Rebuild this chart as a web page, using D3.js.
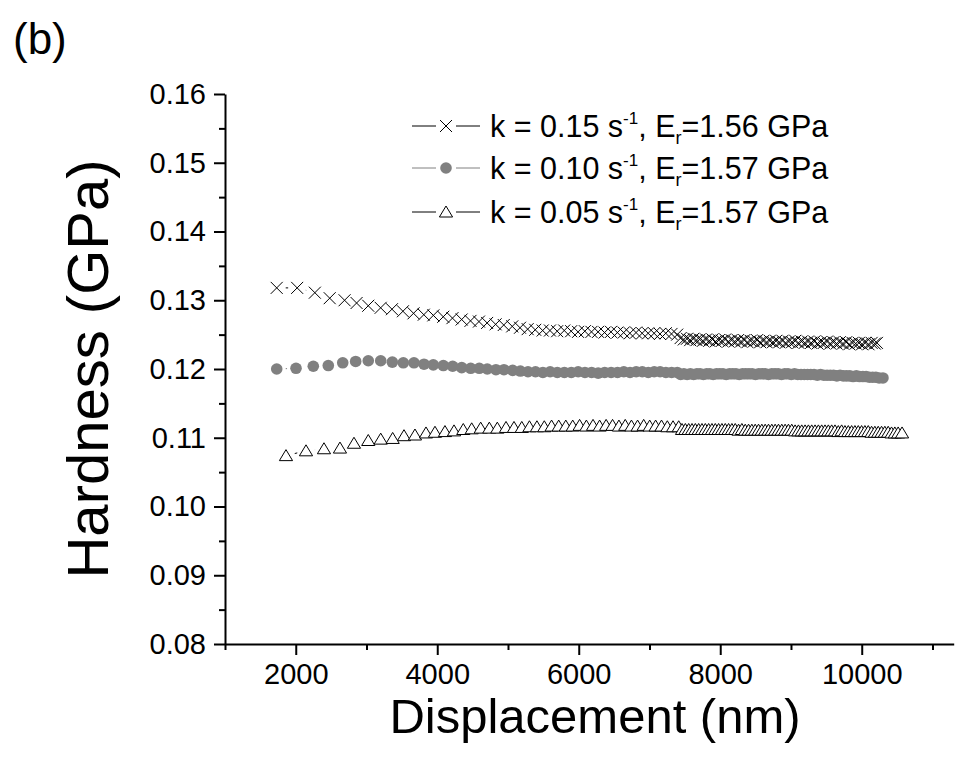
<!DOCTYPE html>
<html>
<head>
<meta charset="utf-8">
<script src="https://cdn.jsdelivr.net/npm/d3@7"></script>
<style>
  body { margin: 0; background: #fff; }
  svg { display: block; font-family: Arial, "Liberation Sans", sans-serif; }
</style>
</head>
<body>
<script>
// data: [displacement (nm), hardness (GPa)]
var k015 = [
  [1731,0.1318],[2020,0.1318],[2270,0.1311],[2480,0.1303],[2690,0.1300],[2860,0.1296],[3025,0.1292],[3200,0.1289],
  [3360,0.1287],[3515,0.1284],[3665,0.1281],[3810,0.1279],[3945,0.1278],[4085,0.1276],[4215,0.1274],[4345,0.1272],
  [4470,0.1270],[4590,0.1269],[4705,0.1267],[4825,0.1265],[4940,0.1264],[5060,0.1262],[5170,0.1260],[5278,0.1258],
  [5385,0.1257],[5490,0.1256],[5593,0.1256],[5695,0.1255],[5795,0.1256],[5893,0.1255],[5990,0.1254],[6086,0.1255],
  [6180,0.1254],[6273,0.1254],[6365,0.1253],[6456,0.1254],[6546,0.1253],[6635,0.1253],[6723,0.1252],[6810,0.1253],
  [6896,0.1252],[6981,0.1252],[7065,0.1252],[7148,0.1251],[7230,0.1252],[7311,0.1251],[7391,0.1250],
  [7440,0.1245],[7485,0.1243],[7530,0.1244],[7575,0.1242],[7620,0.1244],[7665,0.1242],[7710,0.1243],[7755,0.1241],
  [7800,0.1243],[7845,0.1241],[7890,0.1243],[7935,0.1240],[7980,0.1242],[8025,0.1241],[8070,0.1243],[8115,0.1240],
  [8160,0.1242],[8205,0.1240],[8250,0.1242],[8295,0.1240],[8340,0.1242],[8385,0.1239],[8430,0.1241],[8475,0.1240],
  [8520,0.1242],[8565,0.1239],[8610,0.1241],[8655,0.1239],[8700,0.1241],[8745,0.1239],[8790,0.1241],[8835,0.1239],
  [8880,0.1241],[8925,0.1238],[8970,0.1240],[9015,0.1239],[9060,0.1241],[9105,0.1238],[9150,0.1240],[9195,0.1238],
  [9240,0.1240],[9285,0.1238],[9330,0.1240],[9375,0.1237],[9420,0.1239],[9465,0.1238],[9510,0.1240],[9555,0.1237],
  [9600,0.1239],[9645,0.1237],[9690,0.1239],[9735,0.1237],[9780,0.1239],[9825,0.1236],[9870,0.1238],[9915,0.1237],
  [9960,0.1238],[10005,0.1236],[10050,0.1238],[10095,0.1236],[10140,0.1238],[10185,0.1237],[10215,0.1238]
];
var k010 = [
  [1731,0.1200],[2004,0.1201],[2248,0.1204],[2460,0.1205],[2664,0.1209],[2847,0.1211],[3025,0.1212],[3201,0.1212],
  [3365,0.1210],[3520,0.1209],[3671,0.1209],[3813,0.1207],[3944,0.1206],[4086,0.1205],[4218,0.1204],[4346,0.1202],
  [4473,0.1201],[4594,0.1201],[4707,0.1200],[4830,0.1199],[4943,0.1199],[5066,0.1198],[5175,0.1197],[5283,0.1196],
  [5389,0.1196],[5493,0.1195],[5596,0.1196],[5697,0.1195],[5797,0.1195],[5895,0.1195],[5992,0.1196],[6088,0.1195],
  [6182,0.1195],[6275,0.1194],[6367,0.1195],[6458,0.1195],[6548,0.1195],[6637,0.1196],[6725,0.1195],[6812,0.1196],
  [6898,0.1196],[6983,0.1195],[7067,0.1196],[7150,0.1196],[7232,0.1195],[7313,0.1195],[7393,0.1195],
  [7440,0.1192],[7486,0.1193],[7532,0.1192],[7578,0.1193],[7624,0.1192],[7670,0.1193],[7716,0.1193],[7762,0.1192],
  [7808,0.1193],[7854,0.1193],[7900,0.1192],[7946,0.1193],[7992,0.1193],[8038,0.1193],[8084,0.1192],[8130,0.1193],
  [8176,0.1193],[8222,0.1193],[8268,0.1192],[8314,0.1193],[8360,0.1193],[8406,0.1193],[8452,0.1193],[8498,0.1192],
  [8544,0.1193],[8590,0.1193],[8636,0.1193],[8682,0.1192],[8728,0.1193],[8774,0.1193],[8820,0.1193],[8866,0.1192],
  [8912,0.1193],[8958,0.1193],[9004,0.1192],[9050,0.1193],[9096,0.1192],[9142,0.1192],[9188,0.1192],[9234,0.1192],
  [9280,0.1192],[9326,0.1192],[9372,0.1191],[9418,0.1192],[9464,0.1191],[9510,0.1191],[9556,0.1191],[9602,0.1191],
  [9648,0.1190],[9694,0.1191],[9740,0.1190],[9786,0.1190],[9832,0.1190],[9878,0.1189],[9924,0.1190],[9970,0.1189],
  [10016,0.1189],[10062,0.1189],[10108,0.1188],[10154,0.1188],[10200,0.1188],[10246,0.1187],[10300,0.1187]
];
var k005 = [
  [1862,0.1074],[2145,0.1081],[2399,0.1084],[2625,0.1085],[2823,0.1092],[3025,0.1096],[3201,0.1098],[3370,0.1099],
  [3530,0.1103],[3685,0.1104],[3841,0.1107],[3968,0.1108],[4109,0.1109],[4237,0.1110],[4368,0.1112],[4487,0.1113],
  [4614,0.1114],[4736,0.1114],[4849,0.1114],[4972,0.1115],[5085,0.1115],[5195,0.1115],[5303,0.1116],[5409,0.1116],
  [5513,0.1116],[5616,0.1117],[5717,0.1117],[5817,0.1117],[5915,0.1117],[6012,0.1118],[6108,0.1117],[6202,0.1118],
  [6295,0.1117],[6387,0.1118],[6478,0.1118],[6568,0.1117],[6657,0.1118],[6745,0.1117],[6832,0.1117],[6918,0.1118],
  [7003,0.1117],[7087,0.1117],[7170,0.1117],[7252,0.1116],[7333,0.1116],[7413,0.1116],
  [7460,0.1112],[7507,0.1112],[7554,0.1112],[7601,0.1112],[7648,0.1112],[7695,0.1112],[7742,0.1112],[7789,0.1112],
  [7836,0.1112],[7883,0.1112],[7930,0.1112],[7977,0.1112],[8024,0.1112],[8071,0.1112],[8118,0.1112],[8165,0.1112],
  [8212,0.1112],[8259,0.1111],[8306,0.1112],[8353,0.1111],[8400,0.1111],[8447,0.1111],[8494,0.1111],[8541,0.1111],
  [8588,0.1111],[8635,0.1111],[8682,0.1111],[8729,0.1111],[8776,0.1111],[8823,0.1111],[8870,0.1111],[8917,0.1111],
  [8964,0.1111],[9011,0.1111],[9058,0.1110],[9105,0.1110],[9152,0.1110],[9199,0.1110],[9246,0.1110],[9293,0.1110],
  [9340,0.1110],[9387,0.1110],[9434,0.1110],[9481,0.1110],[9528,0.1110],[9575,0.1110],[9622,0.1110],[9669,0.1109],
  [9716,0.1110],[9763,0.1109],[9810,0.1109],[9857,0.1109],[9904,0.1109],[9951,0.1109],[9998,0.1109],[10045,0.1109],
  [10092,0.1109],[10139,0.1108],[10186,0.1108],[10233,0.1108],[10280,0.1108],[10327,0.1108],[10374,0.1108],[10421,0.1107],
  [10468,0.1107],[10515,0.1107],[10570,0.1107]
];

// axis ticks
var xTicks = [2000, 4000, 6000, 8000, 10000];
var xMinor = [1000, 3000, 5000, 7000, 9000, 11000];
var yTicks = [0.08, 0.09, 0.10, 0.11, 0.12, 0.13, 0.14, 0.15, 0.16];
var yMinor = [0.085, 0.095, 0.105, 0.115, 0.125, 0.135, 0.145, 0.155];

// legend labels
var legendK = ["0.15", "0.10", "0.05"];
var legendEr = ["1.56", "1.57", "1.57"];

var width = 958, height = 759;

var svg = d3.select("body").append("svg")
    .attr("width", width)
    .attr("height", height);

var x = d3.scaleLinear().domain([1000, 11300]).range([225, 953.7]);
var y = d3.scaleLinear().domain([0.08, 0.16]).range([644, 94]);

// marker shapes
var shapes = [
  {data: k015, color: "#000", draw: function(g) {
      g.append("path").attr("d", "M-6,-6L6,6M-6,6L6,-6")
        .attr("fill", "none").attr("stroke", "#000").attr("stroke-width", 1);
  }},
  {data: k010, color: "#808080", draw: function(g) {
      g.append("circle").attr("r", 5.8).attr("fill", "#808080");
  }},
  {data: k005, color: "#000", draw: function(g) {
      g.append("path").attr("d", "M0,-6L6.6,5L-6.6,5Z")
        .attr("fill", "#fff").attr("stroke", "#000").attr("stroke-width", 1);
  }}
];

// connecting lines with a gap around each symbol
var gap = 9;
shapes.forEach(function(s) {
  var segs = [];
  for (var i = 0; i < s.data.length - 1; i++) {
    var x1 = x(s.data[i][0]), y1 = y(s.data[i][1]);
    var x2 = x(s.data[i + 1][0]), y2 = y(s.data[i + 1][1]);
    var d = Math.hypot(x2 - x1, y2 - y1);
    if (d > 2 * gap) {
      var ux = (x2 - x1) / d, uy = (y2 - y1) / d;
      segs.push([x1 + ux * gap, y1 + uy * gap, x2 - ux * gap, y2 - uy * gap]);
    }
  }
  svg.append("g").selectAll("line")
    .data(segs)
    .enter().append("line")
    .attr("x1", d => d[0]).attr("y1", d => d[1])
    .attr("x2", d => d[2]).attr("y2", d => d[3])
    .attr("stroke", s.color)
    .attr("stroke-width", 1);
});

// symbols
shapes.forEach(function(s) {
  svg.append("g").selectAll("g")
    .data(s.data)
    .enter().append("g")
    .attr("transform", d => `translate(${x(d[0])},${y(d[1])})`)
    .each(function() { s.draw(d3.select(this)); });
});

// x axis
svg.append("g")
    .attr("transform", "translate(0,644)")
    .call(d3.axisBottom(x).tickValues(xTicks).tickSize(11).tickSizeOuter(0)
      .tickPadding(8).tickFormat(d3.format("d")));
svg.append("g")
    .attr("transform", "translate(0,644)")
    .call(d3.axisBottom(x).tickValues(xMinor).tickSize(6).tickSizeOuter(0).tickFormat(""))
    .select(".domain").remove();

// y axis
svg.append("g")
    .attr("transform", "translate(225,0)")
    .call(d3.axisLeft(y).tickValues(yTicks).tickSize(11).tickSizeOuter(0)
      .tickPadding(8).tickFormat(d3.format(".2f")));
svg.append("g")
    .attr("transform", "translate(225,0)")
    .call(d3.axisLeft(y).tickValues(yMinor).tickSize(6).tickSizeOuter(0).tickFormat(""))
    .select(".domain").remove();

svg.selectAll(".domain, .tick line")
    .attr("stroke", "#000")
    .attr("stroke-width", 2);
svg.selectAll(".tick text")
    .attr("fill", "#000")
    .attr("font-family", "Arial, 'Liberation Sans', sans-serif")
    .attr("font-size", 29);

// axis titles
svg.append("text")
    .attr("x", 595).attr("y", 733)
    .attr("text-anchor", "middle")
    .attr("font-size", 49)
    .text("Displacement (nm)");

svg.append("text")
    .attr("transform", "translate(108,369) rotate(-90)")
    .attr("text-anchor", "middle")
    .attr("font-size", 58)
    .text("Hardness (GPa)");

// panel label
svg.append("text")
    .attr("x", 13).attr("y", 54)
    .attr("font-size", 44)
    .text("(b)");

// legend
var legendY = [126, 168, 212];
legendK.forEach(function(k, i) {
  var g = svg.append("g").attr("transform", `translate(446,${legendY[i]})`);
  g.append("line").attr("x1", -34).attr("x2", -10).attr("stroke", shapes[i].color).attr("stroke-width", 1);
  g.append("line").attr("x1", 10).attr("x2", 34).attr("stroke", shapes[i].color).attr("stroke-width", 1);
  shapes[i].draw(g);
  var t = g.append("text")
      .attr("x", 44).attr("y", 11)
      .attr("font-size", 30.5);
  t.append("tspan").text("k = " + k + " s");
  t.append("tspan").attr("font-size", 17).attr("dy", -13).text("-1");
  t.append("tspan").attr("dy", 13).text(", E");
  t.append("tspan").attr("font-size", 18).attr("dy", 7).text("r");
  t.append("tspan").attr("dy", -7).text("=" + legendEr[i] + " GPa");
});
</script>
</body>
</html>
